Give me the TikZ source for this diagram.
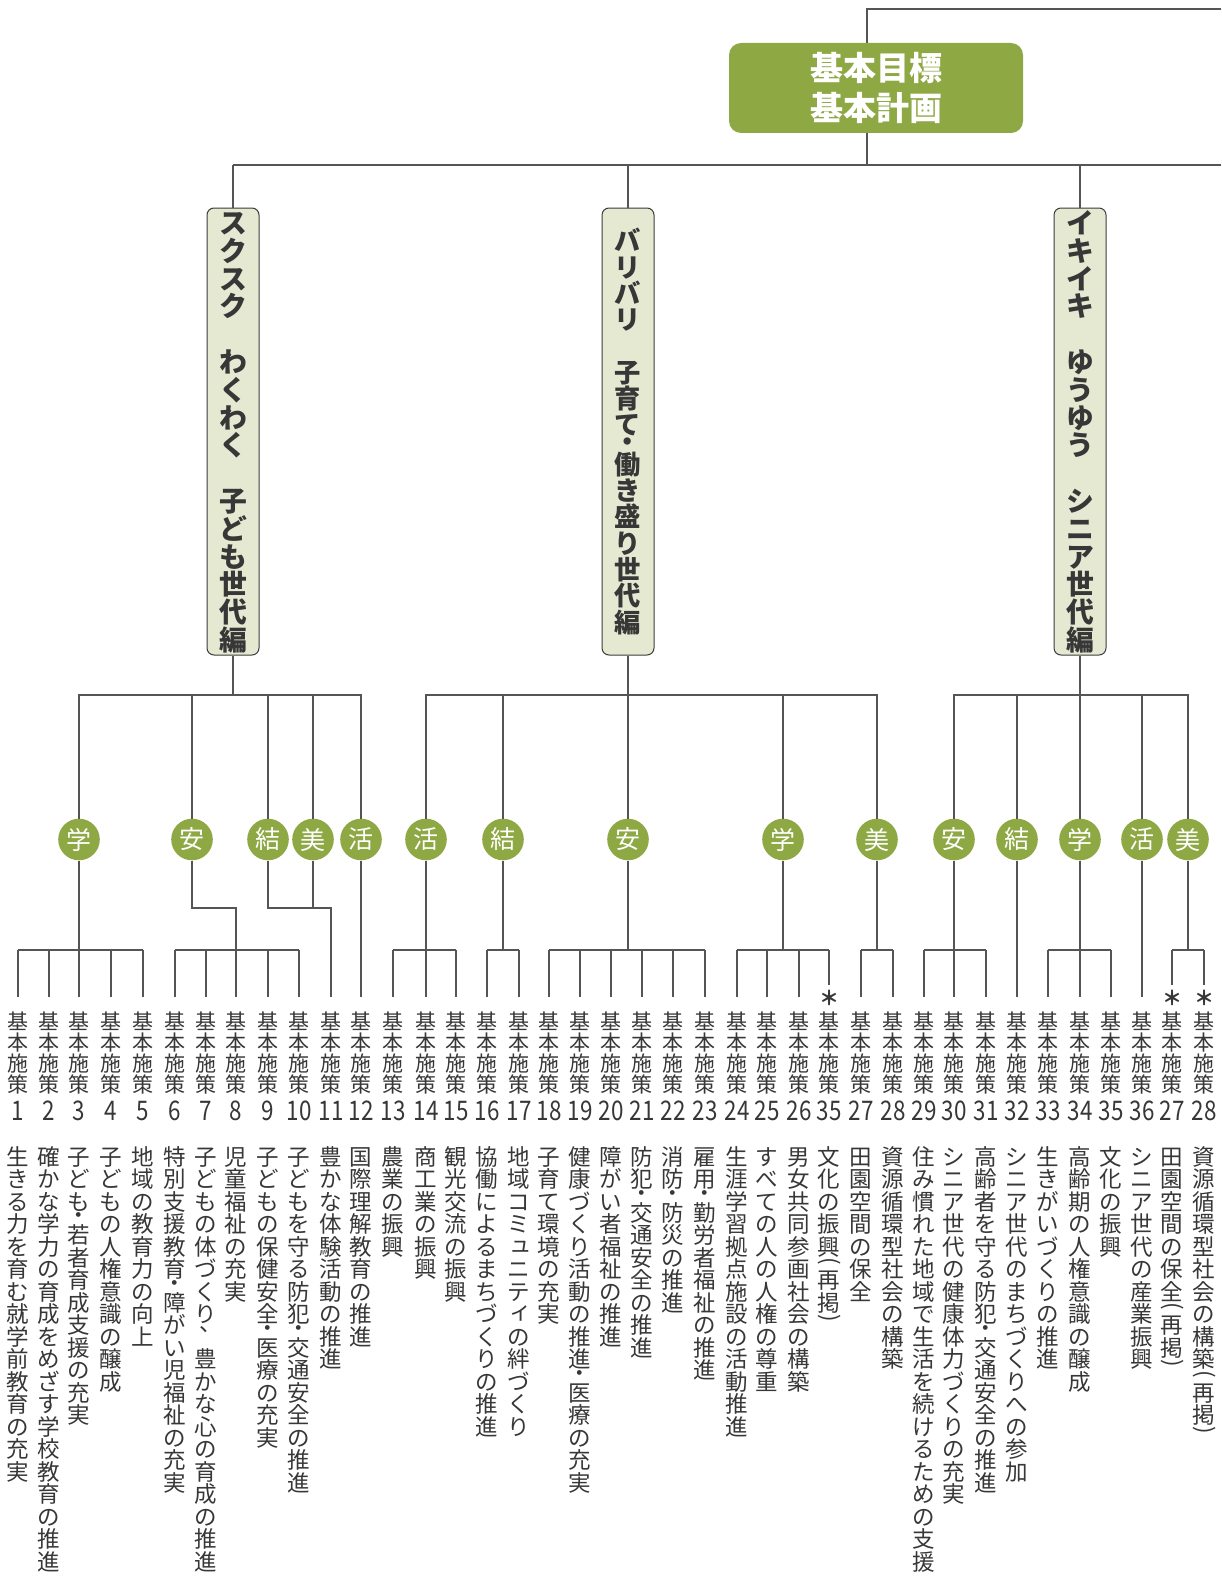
\documentclass[tikz,border=0pt]{standalone}
\usepackage{fontspec}
\usepackage{graphicx}
\newfontfamily\jp{Noto Sans CJK JP}
\definecolor{kgreen}{RGB}{142,168,68}
\definecolor{catfill}{RGB}{229,233,209}
\definecolor{catline}{RGB}{60,60,60}
\definecolor{linec}{RGB}{85,85,85}
\definecolor{txt}{RGB}{55,55,55}
\ExplSyntaxOn
\tl_new:N \l_kv_text_tl
\cs_new_protected:Npn \kv_full:n #1
  { \hbox_to_wd:nn {1em} { \hss \rule[-0.12em]{0pt}{1em} #1 \hss } }
\cs_new_protected:Npn \kv_half:n #1
  { \vbox_to_ht:nn {0.5em} { \vss \hbox_to_wd:nn {1em} { \hss #1 \hss } \vss } }
\cs_new_protected:Npn \kv_small:n #1
  { \hbox_to_wd:nn {1em} { \hss \rule[-0.12em]{0pt}{1em} \kern0.12em \raisebox{0.12em}{#1} \hss } }
\cs_new_protected:Npn \kv_char:n #1
  {
    \str_case:nnF {#1}
      {
        {・} { \kv_half:n {・} }
        {（} { \kv_half:n { \rotatebox[origin=c]{-90}{(} } }
        {）} { \kv_half:n { \rotatebox[origin=c]{-90}{)} } }
        {、} { \kv_full:n { \kern0.45em \raisebox{0.62em}{、} } }
        {ィ} { \kv_small:n {ィ} }
        {ュ} { \kv_small:n {ュ} }
      }
      { \kv_full:n {#1} }
  }
\NewDocumentCommand \vstack { m }
  {
    \tl_set:Nx \l_kv_text_tl {#1}
    \vbox { \offinterlineskip \tl_map_function:NN \l_kv_text_tl \kv_char:n }
  }
\ExplSyntaxOff
\begin{document}
\begin{tikzpicture}[x=1pt,y=-1pt,
  conn/.style={draw=linec, line width=1.2pt},
  rootbox/.style={fill=kgreen, rounded corners=12pt, minimum width=294pt, minimum height=90pt, inner sep=0pt, text=white, align=center, font=\jp\bfseries\fontsize{33}{40}\selectfont},
  catbox/.style={fill=catfill, draw=catline, line width=1pt, rounded corners=7pt, minimum width=52pt, minimum height=447pt, inner sep=0pt, text=txt},
  badge/.style={circle, fill=kgreen, minimum size=41.6pt, inner sep=0pt, text=white, font=\jp\fontsize{25}{25}\selectfont},
  lbl/.style={anchor=north, inner sep=0pt, text=txt, font=\jp\fontsize{21}{21}\selectfont},
  desc/.style={anchor=north, inner sep=0pt, text=txt, font=\jp\fontsize{22.5}{22.5}\selectfont},
  num/.style={anchor=base, inner sep=0pt, xscale=0.83, text=txt, font=\jp\fontsize{27}{27}\selectfont},
  ast/.style={inner sep=0pt, text=txt, font=\jp\bfseries\fontsize{20}{20}\selectfont}]
\useasboundingbox (0,0) rectangle (1221,1576);

% top structure
\coordinate (rt) at (867,9);
\coordinate (rtR) at (1221,9);
\coordinate (hub) at (867,165);
\coordinate (h1) at (233,165);
\coordinate (h2) at (628,165);
\coordinate (h3) at (1080,165);
\coordinate (hR) at (1221,165);
\draw[conn] (rtR) -- (rt) -- (hub);
\draw[conn] (h1) -- (hR);
\node[rootbox] (root) at (876,88) {基本目標\\基本計画};

% category boxes
\node[catbox, font=\jp\bfseries\fontsize{27.8}{27.8}\selectfont] (k1) at (233,431.5) {\vstack{スクスク　わくわく　子ども世代編}};
\node[catbox, font=\jp\bfseries\fontsize{26.3}{26.3}\selectfont] (k2) at (628,431.5) {\vstack{バリバリ　子育て・働き盛り世代編}};
\node[catbox, font=\jp\bfseries\fontsize{27.8}{27.8}\selectfont] (k3) at (1080,431.5) {\vstack{イキイキ　ゆうゆう　シニア世代編}};
\draw[conn] (h1) -- (k1.north);
\draw[conn] (h2) -- (k2.north);
\draw[conn] (h3) -- (k3.north);

\coordinate (j1) at (233,695);
\coordinate (j2) at (628,695);
\coordinate (j3) at (1080,695);
\draw[conn] (k1.south) -- (j1);
\draw[conn] (k2.south) -- (j2);
\draw[conn] (k3.south) -- (j3);

% badges
\node[badge] (g1) at (79,839.5) {学};
\node[badge] (g2) at (192,839.5) {安};
\node[badge] (g3) at (268,839.5) {結};
\node[badge] (g4) at (313,839.5) {美};
\node[badge] (g5) at (361,839.5) {活};
\node[badge] (g6) at (426,839.5) {活};
\node[badge] (g7) at (503,839.5) {結};
\node[badge] (g8) at (628,839.5) {安};
\node[badge] (g9) at (783,839.5) {学};
\node[badge] (g10) at (877,839.5) {美};
\node[badge] (g11) at (954,839.5) {安};
\node[badge] (g12) at (1017,839.5) {結};
\node[badge] (g13) at (1080,839.5) {学};
\node[badge] (g14) at (1142,839.5) {活};
\node[badge] (g15) at (1188,839.5) {美};

\draw[conn] (g1.north) |- (j1) -| (g5.north);
\foreach \g in {g2,g3,g4} \draw[conn] (\g.north) -- (\g.north |- j1);
\draw[conn] (g6.north) |- (j2) -| (g10.north);
\foreach \g in {g7,g8,g9} \draw[conn] (\g.north) -- (\g.north |- j2);
\draw[conn] (g11.north) |- (j3) -| (g15.north);
\foreach \g in {g12,g13,g14} \draw[conn] (\g.north) -- (\g.north |- j3);

% columns
\foreach \x/\n/\t/\d [count=\k] in {
18/1/997/生きる力を育む就学前教育の充実,
49/2/997/確かな学力の育成をめざす学校教育の推進,
79/3/997/子ども・若者育成支援の充実,
111/4/997/子どもの人権意識の醸成,
143/5/997/地域の教育力の向上,
175/6/997/特別支援教育・障がい児福祉の充実,
206/7/997/子どもの体づくり、豊かな心の育成の推進,
236/8/997/児童福祉の充実,
268/9/997/子どもの保健安全・医療の充実,
299/10/997/子どもを守る防犯・交通安全の推進,
331/11/997/豊かな体験活動の推進,
361/12/997/国際理解教育の推進,
393/13/997/農業の振興,
426/14/997/商工業の振興,
456/15/997/観光交流の振興,
487/16/997/協働によるまちづくりの推進,
519/17/997/地域コミュニティの絆づくり,
549/18/997/子育て環境の充実,
580/19/997/健康づくり活動の推進・医療の充実,
611/20/997/障がい者福祉の推進,
642/21/997/防犯・交通安全の推進,
673/22/997/消防・防災の推進,
705/23/997/雇用・勤労者福祉の推進,
737/24/997/生涯学習拠点施設の活動推進,
767/25/997/すべての人の人権の尊重,
799/26/997/男女共同参画社会の構築,
829/35/985/文化の振興（再掲）,
861/27/997/田園空間の保全,
893/28/997/資源循環型社会の構築,
924/29/997/住み慣れた地域で生活を続けるための支援,
954/30/997/シニア世代の健康体力づくりの充実,
986/31/997/高齢者を守る防犯・交通安全の推進,
1017/32/997/シニア世代のまちづくりへの参加,
1048/33/997/生きがいづくりの推進,
1080/34/997/高齢期の人権意識の醸成,
1111/35/997/文化の振興,
1142/36/997/シニア世代の産業振興,
1172/27/985/田園空間の保全（再掲）,
1204/28/985/資源循環型社会の構築（再掲）} {
  \coordinate (b\k) at (\x,950);
  \coordinate (t\k) at (\x,\t);
  \draw[conn] (b\k) -- (t\k);
  \node[lbl] (L\k) at (\x,1010.5) {\vstack{基本施策}};
  \node[num] (N\k) at (\x,1120) {\n};
  \node[desc] (D\k) at (\x,1145) {\vstack{\d}};
}
\node[ast] (a1) at (829,998) {＊};
\node[ast] (a2) at (1172,998) {＊};
\node[ast] (a3) at (1204,998) {＊};

% bars
\draw[conn] (b1) -- (b5);
\draw[conn] (b6) -- (b10);
\draw[conn] (b13) -- (b15);
\draw[conn] (b16) -- (b17);
\draw[conn] (b18) -- (b23);
\draw[conn] (b24) -- (b27);
\draw[conn] (b28) -- (b29);
\draw[conn] (b30) -- (b32);
\draw[conn] (b34) -- (b36);
\draw[conn] (b38) -- (b39);

% drops from badges
\coordinate (e2) at (236,908);
\coordinate (e3) at (331,908);
\draw[conn] (g1.south) -- (b3);
\draw[conn] (g2.south) |- (e2) -- (b8);
\draw[conn] (g3.south) |- (e3) -- (b11);
\draw[conn] (g4.south) -- (g4.south |- e3);
\draw[conn] (g5.south) -- (b12);
\draw[conn] (g6.south) -- (b14);
\draw[conn] (g7.south) -- (g7.south |- b16);
\draw[conn] (g8.south) -- (g8.south |- b18);
\draw[conn] (g9.south) -- (g9.south |- b24);
\draw[conn] (g10.south) -- (g10.south |- b28);
\draw[conn] (g11.south) -- (b31);
\draw[conn] (g12.south) -- (b33);
\draw[conn] (g13.south) -- (b35);
\draw[conn] (g14.south) -- (b37);
\draw[conn] (g15.south) -- (g15.south |- b38);
\end{tikzpicture}
\end{document}
